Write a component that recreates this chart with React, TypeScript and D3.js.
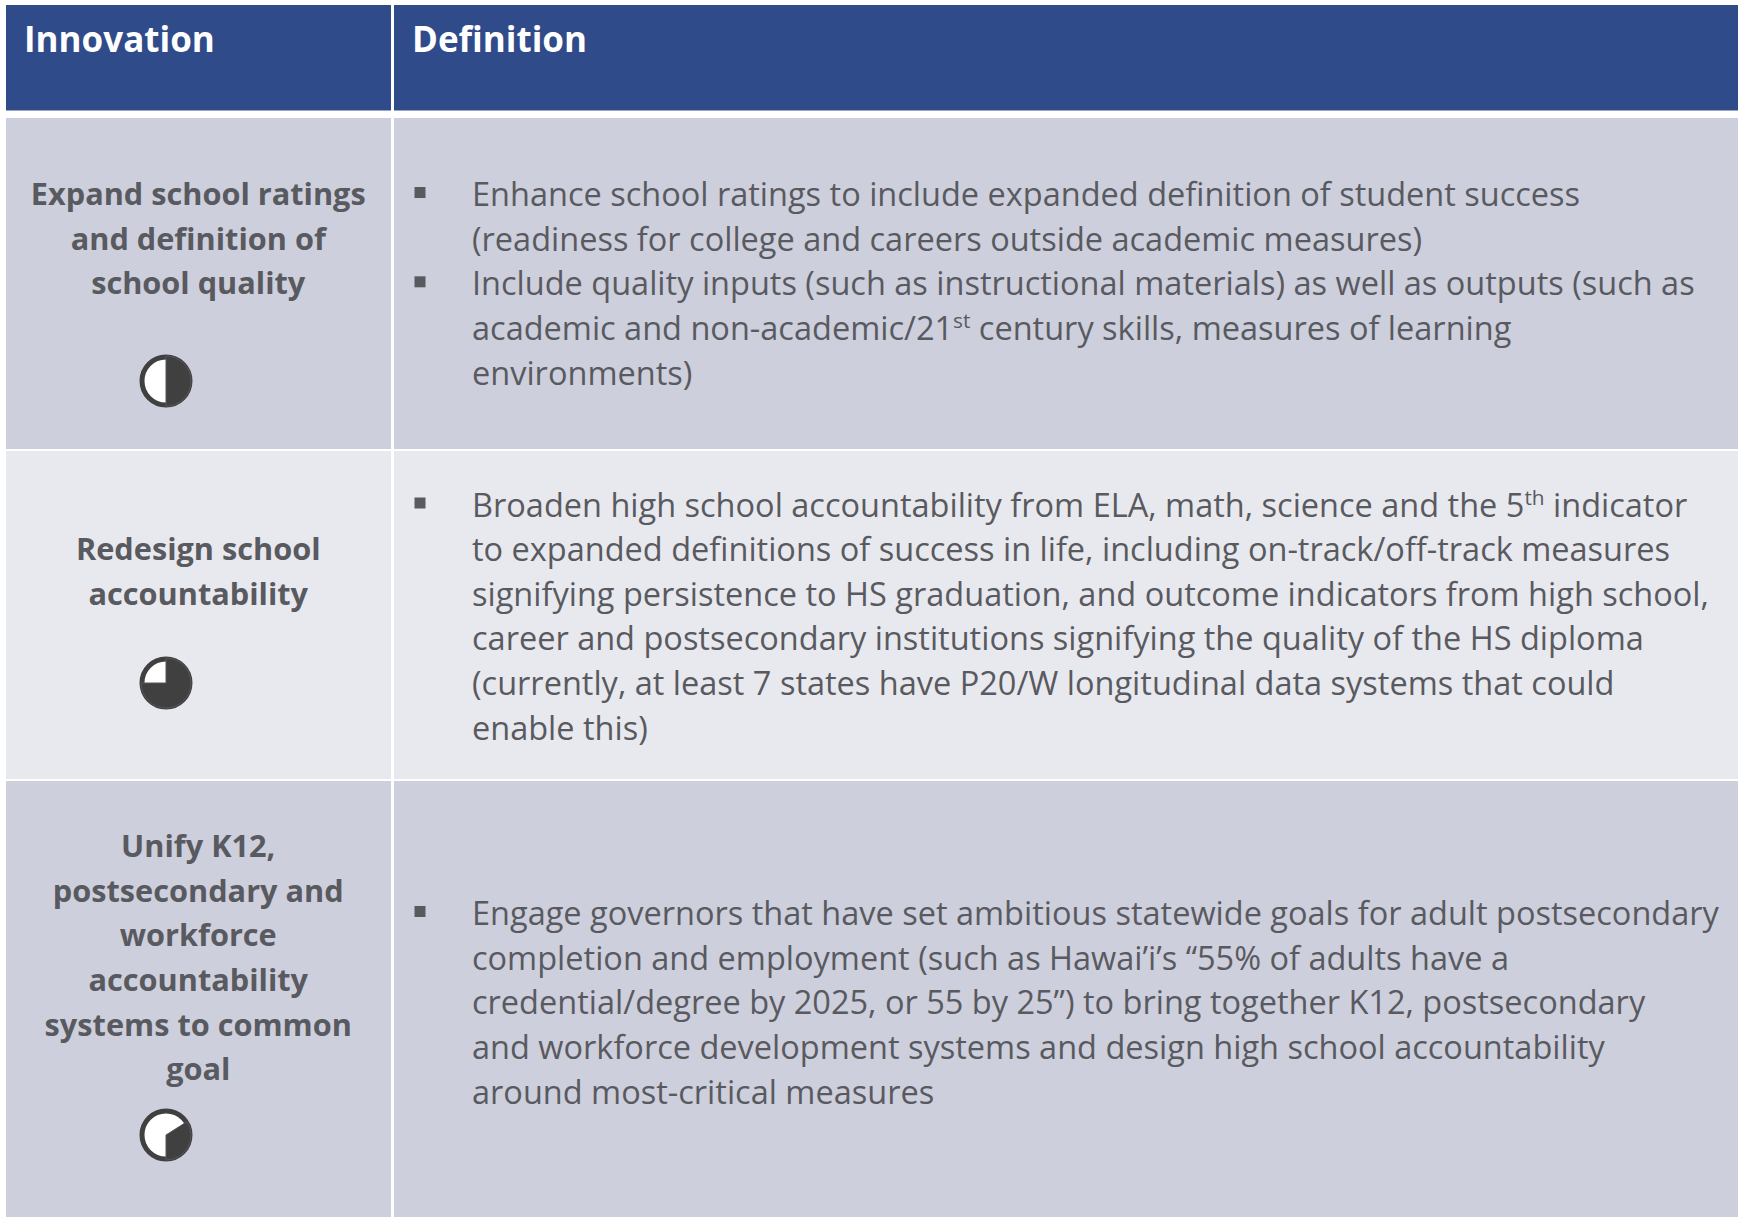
import React, { useEffect, useRef } from "react";
import * as d3 from "d3";

const headers = ["Innovation", "Definition"];

const innovations = [
  ["Expand school ratings", "and definition of", "school quality"],
  ["Redesign school", "accountability"],
  ["Unify K12,", "postsecondary and", "workforce", "accountability", "systems to common", "goal"],
];

// share of the ball that is filled in, and where the wedge starts (turns from 12 o'clock)
const ballShares = [0.5, 0.75, 0.34];
const ballStarts = [0, 0, 0.16];

// each bullet is a list of wrapped lines, ^{} marks a superscript
const definitions = [
  [
    [
      "Enhance school ratings to include expanded definition of student success",
      "(readiness for college and careers outside academic measures)",
    ],
    [
      "Include quality inputs (such as instructional materials) as well as outputs (such as",
      "academic and non-academic/21^{st} century skills, measures of learning",
      "environments)",
    ],
  ],
  [
    [
      "Broaden high school accountability from ELA, math, science and the 5^{th} indicator",
      "to expanded definitions of success in life, including on-track/off-track measures",
      "signifying persistence to HS graduation, and outcome indicators from high school,",
      "career and postsecondary institutions signifying the quality of the HS diploma",
      "(currently, at least 7 states have P20/W longitudinal data systems that could",
      "enable this)",
    ],
  ],
  [
    [
      "Engage governors that have set ambitious statewide goals for adult postsecondary",
      "completion and employment (such as Hawai\u2019i\u2019s \u201c55% of adults have a",
      "credential/degree by 2025, or 55 by 25\u201d) to bring together K12, postsecondary",
      "and workforce development systems and design high school accountability",
      "around most-critical measures",
    ],
  ],
];

const W = 1742;
const H = 1217;
const FONT = "'Open Sans', sans-serif";
const TEXT = "#595a60";
const NAVY = "#304b8a";
const ROW_FILLS = ["#cdcfdc", "#e8e9ee", "#cdcfdc"];
const DARK = "#404040";

const colX = [6, 392.5, 1738];
const rowY = [118, 450, 780, 1217];
const labelFirstBaseline = [205, 560, 857];
const defFirstBaseline = [206, 516.5, 925];
const ballY = [381, 683, 1135];
const ballX = 166;
const ballR = 26.5;
const lineH = 44.65;
const bodySize = 32.5;
const labelSize = 30.7;
const headSize = 35;
const defX = 472;

function addRichText(textSel: any, line: string, size: number) {
  const parts = line.split(/(\^\{[^}]*\})/).filter((p) => p.length);
  let shifted = false;
  parts.forEach((p) => {
    const isSup = p.startsWith("^{");
    const ts = textSel.append("tspan").text(isSup ? p.slice(2, -1) : p);
    if (isSup) {
      ts.attr("font-size", size * 0.64).attr("dy", -size * 0.36);
      shifted = true;
    } else if (shifted) {
      ts.attr("dy", size * 0.36);
      shifted = false;
    }
  });
}

const App = () => {
  const ref = useRef<SVGSVGElement | null>(null);

  useEffect(() => {
    if (!ref.current) return;
    const svg = d3.select(ref.current);
    svg.selectAll("*").remove();

    svg.append("rect").attr("width", W).attr("height", H).attr("fill", "#ffffff");

    // header band
    headers.forEach((h, i) => {
      const x0 = colX[i] + (i === 0 ? 0 : 1.5);
      const x1 = colX[i + 1] - (i === 0 ? 1.5 : 0);
      svg.append("rect").attr("x", x0).attr("y", 5).attr("width", x1 - x0).attr("height", 105.5).attr("fill", NAVY);
      svg
        .append("text")
        .attr("x", i === 0 ? 24 : 412)
        .attr("y", 52)
        .attr("font-family", FONT)
        .attr("font-weight", 700)
        .attr("font-size", headSize)
        .attr("fill", "#ffffff")
        .text(h);
    });

    const arc = d3.arc<any>();

    innovations.forEach((lines, r) => {
      const y0 = rowY[r] + (r === 0 ? 0 : 1);
      const y1 = rowY[r + 1] - (r === 2 ? 0 : 1);

      colX.slice(0, 2).forEach((x, c) => {
        const x0 = x + (c === 0 ? 0 : 1.5);
        const x1 = colX[c + 1] - (c === 0 ? 1.5 : 0);
        svg.append("rect").attr("x", x0).attr("y", y0).attr("width", x1 - x0).attr("height", y1 - y0).attr("fill", ROW_FILLS[r]);
      });

      // left column label
      lines.forEach((l, i) => {
        svg
          .append("text")
          .attr("x", (colX[0] + colX[1]) / 2 - 1)
          .attr("y", labelFirstBaseline[r] + i * lineH)
          .attr("text-anchor", "middle")
          .attr("font-family", FONT)
          .attr("font-weight", 700)
          .attr("font-size", labelSize)
          .attr("fill", TEXT)
          .text(l);
      });

      // harvey ball
      const ball = svg.append("g").attr("transform", `translate(${ballX},${ballY[r]})`);
      ball.append("circle").attr("r", ballR - 2.5).attr("fill", "#ffffff").attr("stroke", DARK).attr("stroke-width", 5);
      const share = ballShares[r];
      const start = ballStarts[r] * 2 * Math.PI;
      const slices = d3
        .pie<number>()
        .sort(null)
        .startAngle(start)
        .endAngle(start + 2 * Math.PI)([share, 1 - share]);
      ball
        .selectAll("path")
        .data(slices.slice(0, 1))
        .enter()
        .append("path")
        .attr("d", (d: any) => arc({ innerRadius: 0, outerRadius: ballR - 1.5, startAngle: d.startAngle, endAngle: d.endAngle }) as string)
        .attr("fill", DARK)
        .attr("stroke", "#55565a")
        .attr("stroke-width", 1);

      // definition bullets
      let lineNo = 0;
      definitions[r].forEach((bullet) => {
        const by = defFirstBaseline[r] + lineNo * lineH;
        svg.append("rect").attr("x", 414.5).attr("y", by - 19).attr("width", 11).attr("height", 11).attr("fill", TEXT);
        bullet.forEach((line) => {
          const t = svg
            .append("text")
            .attr("x", defX)
            .attr("y", defFirstBaseline[r] + lineNo * lineH)
            .attr("font-family", FONT)
            .attr("font-size", bodySize)
            .attr("fill", TEXT);
          addRichText(t, line, bodySize);
          lineNo += 1;
        });
      });
    });
  }, []);

  return <svg ref={ref} width={W} height={H} style={{ position: "absolute", left: 0, top: 0 }} />;
};

export default App;
